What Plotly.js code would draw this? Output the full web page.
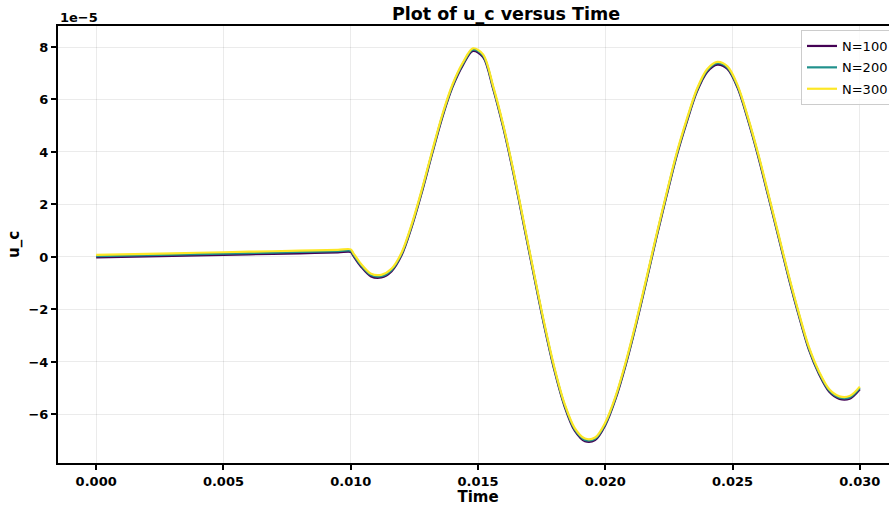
<!DOCTYPE html>
<html>
<head>
<meta charset="utf-8">
<script src="https://cdn.plot.ly/plotly-3.0.1.min.js"></script>
<style>
  html, body { margin: 0; padding: 0; overflow: hidden; background: #fff; }
  #chart { width: 899px; height: 506px; }
</style>
</head>
<body>
<div id="chart"></div>
<script>
// Time samples (s)
const time = [0, 0.002, 0.004, 0.006, 0.008, 0.0095,
  0.0100, 0.0101, 0.0104, 0.0108, 0.0112, 0.0116, 0.0120, 0.0124, 0.0128, 0.0132, 0.0136,
  0.0140, 0.0144, 0.0148, 0.0152, 0.0156, 0.0160, 0.0164, 0.0168, 0.0172, 0.0176,
  0.0180, 0.0184, 0.0188, 0.0192, 0.0196, 0.0200, 0.0204, 0.0208, 0.0212, 0.0216,
  0.0220, 0.0224, 0.0228, 0.0232, 0.0236, 0.0240, 0.0244, 0.0248, 0.0252, 0.0256,
  0.0260, 0.0264, 0.0268, 0.0272, 0.0276, 0.0280, 0.0284, 0.0288, 0.0292, 0.0296, 0.0300];

// u_c values in units of 1e-5
const uc_N100 = [-0.02, 0.02, 0.06, 0.10, 0.14, 0.17,
  0.19, 0.05, -0.36, -0.74, -0.78, -0.55, 0.07, 1.16, 2.49, 3.94, 5.33,
  6.48, 7.30, 7.85, 7.62, 6.39, 4.90, 3.15, 1.22, -0.72, -2.61,
  -4.31, -5.69, -6.62, -7.02, -6.98, -6.41, -5.42, -4.12, -2.62, -0.98,
  0.70, 2.30, 3.84, 5.14, 6.30, 7.05, 7.33, 7.16, 6.44, 5.24,
  3.86, 2.33, 0.78, -0.78, -2.22, -3.53, -4.47, -5.14, -5.41, -5.40, -5.04];

const uc_N200 = [0.03, 0.07, 0.11, 0.15, 0.19, 0.22,
  0.24, 0.10, -0.31, -0.69, -0.73, -0.50, 0.12, 1.21, 2.54, 3.99, 5.38,
  6.53, 7.35, 7.90, 7.67, 6.44, 4.95, 3.20, 1.27, -0.67, -2.56,
  -4.26, -5.64, -6.57, -6.97, -6.93, -6.36, -5.37, -4.07, -2.57, -0.93,
  0.75, 2.35, 3.89, 5.19, 6.35, 7.10, 7.38, 7.21, 6.49, 5.29,
  3.91, 2.38, 0.83, -0.73, -2.17, -3.48, -4.42, -5.09, -5.36, -5.35, -4.99];

const uc_N300 = [0.08, 0.12, 0.16, 0.20, 0.24, 0.27,
  0.29, 0.15, -0.26, -0.64, -0.68, -0.45, 0.17, 1.26, 2.59, 4.04, 5.43,
  6.58, 7.40, 7.95, 7.72, 6.49, 5.00, 3.25, 1.32, -0.62, -2.51,
  -4.21, -5.59, -6.52, -6.92, -6.88, -6.31, -5.32, -4.02, -2.52, -0.88,
  0.80, 2.40, 3.94, 5.24, 6.40, 7.15, 7.43, 7.26, 6.54, 5.34,
  3.96, 2.43, 0.88, -0.68, -2.12, -3.43, -4.37, -5.04, -5.31, -5.30, -4.94];

const seriesNames = ['N=100', 'N=200', 'N=300'];
const seriesValues = [uc_N100, uc_N200, uc_N300];
const seriesColors = ['#440154', '#21918c', '#fde725'];

const xTicks = [0, 0.005, 0.010, 0.015, 0.020, 0.025, 0.030];
const yTicks = [-6, -4, -2, 0, 2, 4, 6, 8];

const FONT = 'DejaVu Sans, Liberation Sans, sans-serif';

const traces = seriesValues.map((vals, i) => ({
  x: time,
  y: vals,
  type: 'scatter',
  mode: 'lines',
  name: seriesNames[i],
  legendgroup: 'g' + i,
  line: { color: seriesColors[i], width: 2.2, shape: 'spline', smoothing: 0.9 }
}));

const W = 899, H = 506;
const ML = 58, MR = 1, MT = 26, MB = 43;

const layout = {
  width: W,
  height: H,
  margin: { l: ML, r: MR, t: MT, b: MB, pad: 0 },
  paper_bgcolor: '#ffffff',
  plot_bgcolor: '#ffffff',
  font: { family: FONT, color: '#000000', size: 13 },
  title: {
    text: 'Plot of u_c versus Time',
    font: { family: FONT, size: 17.5, weight: 'bold', color: '#000' },
    x: 506 / W, xref: 'container', xanchor: 'center',
    y: 1 - 14 / H, yref: 'container', yanchor: 'middle'
  },
  xaxis: {
    range: [-0.0015, 0.0315],
    tickvals: xTicks,
    tickformat: '.3f',
    ticks: 'outside', ticklen: 5, tickwidth: 2, tickcolor: '#000',
    tickfont: { family: FONT, size: 13, weight: 'bold' },
    showline: true, linecolor: '#000', linewidth: 2, mirror: true,
    showgrid: true, gridcolor: 'rgba(0,0,0,0.08)', gridwidth: 1,
    zeroline: false,
    title: { text: 'Time', font: { family: FONT, size: 15, weight: 'bold' }, standoff: 8 }
  },
  yaxis: {
    range: [-7.85, 8.8],
    tickvals: yTicks,
    ticks: 'outside', ticklen: 5, tickwidth: 2, tickcolor: '#000',
    tickfont: { family: FONT, size: 13, weight: 'bold' },
    showline: true, linecolor: '#000', linewidth: 2, mirror: true,
    showgrid: true, gridcolor: 'rgba(0,0,0,0.08)', gridwidth: 1,
    zeroline: false,
    title: { text: 'u_c', font: { family: FONT, size: 15, weight: 'bold' }, standoff: 5 }
  },
  legend: {
    x: (801 - ML) / (W - ML - MR), y: 1 - (30 - MT) / (H - MT - MB),
    xanchor: 'left', yanchor: 'top',
    bgcolor: 'rgba(255,255,255,0.8)',
    bordercolor: '#cccccc', borderwidth: 1,
    font: { family: FONT, size: 13, color: '#000' },
    tracegroupgap: 1.5
  },
  annotations: [{
    text: '1e\u22125',
    xref: 'paper', yref: 'paper',
    x: 0, y: 1, xanchor: 'left', yanchor: 'bottom', yshift: -1,
    showarrow: false,
    font: { family: FONT, size: 13, weight: 'bold', color: '#000' }
  }],
  showlegend: true
};

Plotly.newPlot('chart', traces, layout, { displayModeBar: false, staticPlot: true });
</script>
</body>
</html>
